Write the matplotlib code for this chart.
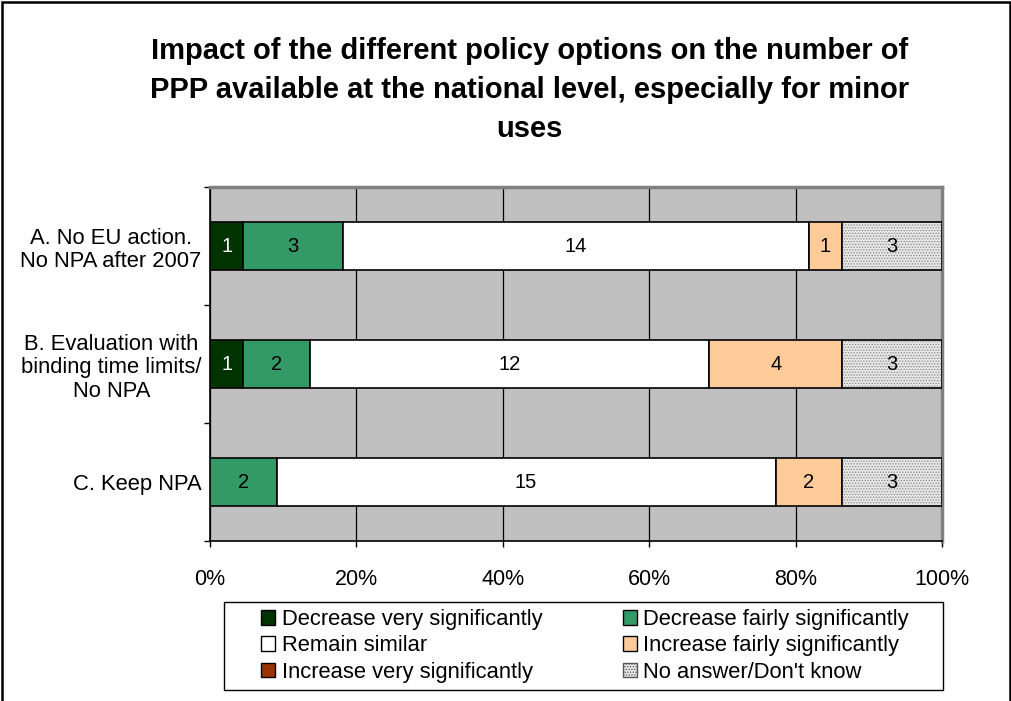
import matplotlib
matplotlib.use("Agg")
import matplotlib.pyplot as plt
import numpy as np
from matplotlib.patches import Patch, Rectangle

plt.rcParams['font.family'] = ['Liberation Sans', 'DejaVu Sans']
plt.rcParams['hatch.linewidth'] = 0.6

title = "Impact of the different policy options on the number of\nPPP available at the national level, especially for minor\nuses"
categories = ["A. No EU action.\nNo NPA after 2007",
              "B. Evaluation with\nbinding time limits/\nNo NPA",
              "C. Keep NPA"]
series_names = ["Decrease very significantly", "Decrease fairly significantly",
                "Remain similar", "Increase fairly significantly",
                "Increase very significantly", "No answer/Don't know"]
values = {
    "Decrease very significantly": [1, 1, 0],
    "Decrease fairly significantly": [3, 2, 2],
    "Remain similar": [14, 12, 15],
    "Increase fairly significantly": [1, 4, 2],
    "Increase very significantly": [0, 0, 0],
    "No answer/Don't know": [3, 3, 3],
}
colors = {
    "Decrease very significantly": "#003300",
    "Decrease fairly significantly": "#339966",
    "Remain similar": "#FFFFFF",
    "Increase fairly significantly": "#FFCC99",
    "Increase very significantly": "#993300",
    "No answer/Don't know": "#E6E6E6",
}
xticklabels = ["0%", "20%", "40%", "60%", "80%", "100%"]

fig = plt.figure(figsize=(10.12, 7.01), dpi=100)
ax = fig.add_axes([210/1012, 1-541/701, 732/1012, 354/701])
ax.set_facecolor("#C0C0C0")

data = np.array([values[s] for s in series_names], dtype=float)
totals = data.sum(axis=0)
frac = data / totals
y = np.arange(len(categories))
left = np.zeros(len(categories))
bh = 0.41
for i, s in enumerate(series_names):
    w = frac[i]
    mask = w > 0
    if s == "No answer/Don't know":
        ax.barh(y[mask], w[mask], left=left[mask], height=bh, color=colors[s],
                edgecolor="#8A8A8A", hatch="......", linewidth=0, zorder=3)
        ax.barh(y[mask], w[mask], left=left[mask], height=bh, fill=False,
                edgecolor="black", linewidth=1.2, zorder=4)
    else:
        ax.barh(y[mask], w[mask], left=left[mask], height=bh, color=colors[s],
                edgecolor="black", linewidth=1.2, zorder=3)
    for j in range(len(categories)):
        if data[i, j] > 0:
            tc = "white" if s == "Decrease very significantly" else "black"
            ax.text(left[j] + w[j]/2, y[j], f"{int(data[i, j])}", ha="center",
                    va="center", fontsize=14.5, color=tc, zorder=5)
    left = left + w

ax.set_xlim(0, 1)
ax.set_ylim(2.5, -0.5)
ax.set_xticks(np.linspace(0, 1, 6))
ax.set_xticklabels(xticklabels, fontsize=15.5)
ax.set_yticks(y)
ax.set_yticklabels(categories, fontsize=15.8, multialignment="center",
                   linespacing=1.15)
ax.set_yticks([-0.5, 0.5, 1.5, 2.5], minor=True)
ax.tick_params(axis="y", which="major", length=0, pad=6)
ax.tick_params(axis="y", which="minor", length=4, direction="out", width=1)
ax.tick_params(axis="x", length=4, direction="out", width=1, pad=16)
ax.grid(axis="x", color="black", linewidth=0.9, zorder=1)
ax.set_axisbelow(True)
for sp in ["left", "bottom"]:
    ax.spines[sp].set_color("black")
    ax.spines[sp].set_linewidth(1.2)
for sp in ["top", "right"]:
    ax.spines[sp].set_color("#808080")
    ax.spines[sp].set_linewidth(2.5)

fig.text(0.523, 1-37/701, title, ha="center", va="top", fontsize=21,
         fontweight="bold", linespacing=1.5)

order = [0, 2, 4, 1, 3, 5]
handles = []
for k in order:
    s = series_names[k]
    if s == "No answer/Don't know":
        handles.append(Patch(facecolor=colors[s], edgecolor="#555555", hatch="......",
                             linewidth=1, label=s))
    else:
        handles.append(Patch(facecolor=colors[s], edgecolor="black", linewidth=1, label=s))
leg = fig.legend(handles=handles, loc="upper left", ncol=2,
                 bbox_to_anchor=(261/1012, 1-609/701), fontsize=15.8,
                 frameon=False, handlelength=0.65, handleheight=0.65,
                 handletextpad=0.3, labelspacing=0.24, columnspacing=3.65,
                 borderpad=0, borderaxespad=0)

fig.patches.append(Rectangle((224/1012, 1-690/701), 719/1012, 88/701,
                             transform=fig.transFigure, fill=False,
                             edgecolor="black", linewidth=1.0))
fig.patches.append(Rectangle((2/1012, -0.01), 1008/1012, 1-2/701+0.01,
                             transform=fig.transFigure, fill=False,
                             edgecolor="black", linewidth=1.8))

fig.savefig("out.png", dpi=100)
